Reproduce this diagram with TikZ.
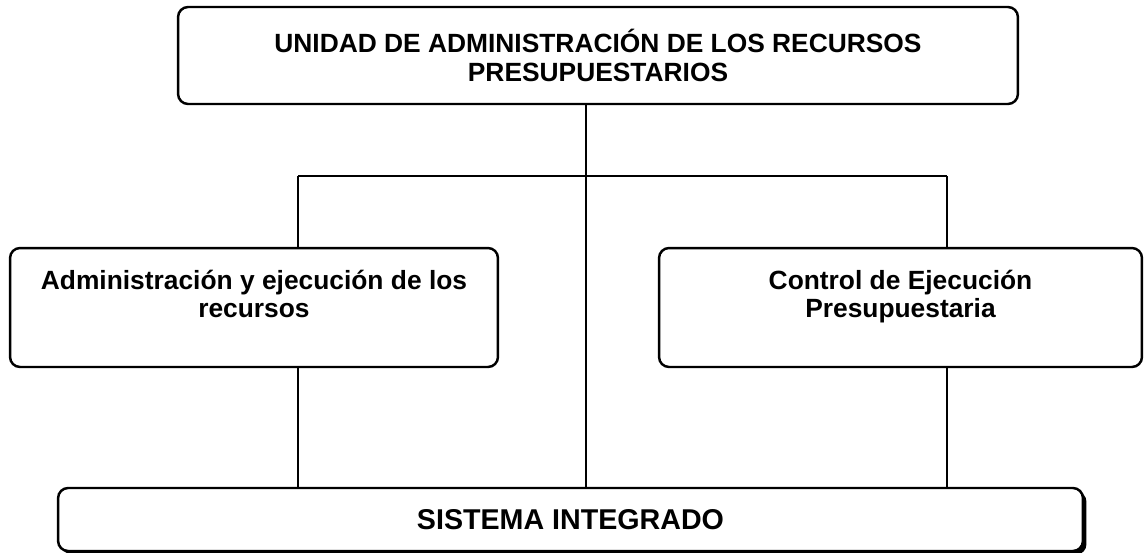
\documentclass[tikz,border=0pt]{standalone}
\usepackage{fontspec}
\setmainfont{Liberation Sans}
\usetikzlibrary{calc,shadows}

\tikzset{
	unit/.style={draw, line width=1.4pt, rounded corners=0.2cm, fill=white, align=center,
		font=\fontsize{15}{16}\selectfont\bfseries},
	link/.style={line width=1.6pt},
}

\begin{document}
\begin{tikzpicture}[x=0.02cm, y=-0.02cm]
	%%%%% START %%%%%
	\useasboundingbox (0, 0) rectangle (1145, 552);
	
	\coordinate (hub) at (586, 176);
	\coordinate (lbranch) at (298, 176);
	\coordinate (rbranch) at (947, 176);
	
	\node[unit, minimum width=16.8cm, minimum height=1.94cm] (udarp) at (598, 55.5)
		{UNIDAD DE ADMINISTRACIÓN DE LOS RECURSOS\\PRESUPUESTARIOS};
	
	% an empty last line keeps the text in the upper part of the box
	\node[unit, minimum width=9.76cm, minimum height=2.38cm] (admrec) at (254, 307.5)
		{Administración y ejecución de los\\recursos\\{}};
	\node[unit, minimum width=9.66cm, minimum height=2.38cm] (ctrlej) at (900.5, 307.5)
		{Control de Ejecución\\Presupuestaria\\{}};
	
	\node[unit, font=\fontsize{16.3}{18}\selectfont\bfseries, minimum width=20.5cm, minimum height=1.26cm,
		drop shadow={shadow xshift=0.07cm, shadow yshift=-0.07cm, fill=black, opacity=1}] (sisint) at (570.5, 519.5)
		{SISTEMA INTEGRADO};
	
	% connectors
	\draw[link] (udarp.south -| hub) -- (sisint.north -| hub);
	\draw[link] (lbranch) -- (rbranch);
	\draw[link] (lbranch) -- (admrec.north -| lbranch);
	\draw[link] (admrec.south -| lbranch) -- (sisint.north -| lbranch);
	\draw[link] (rbranch) -- (ctrlej.north -| rbranch);
	\draw[link] (ctrlej.south -| rbranch) -- (sisint.north -| rbranch);
	
	%%%%% END %%%%%
\end{tikzpicture}
\end{document}
